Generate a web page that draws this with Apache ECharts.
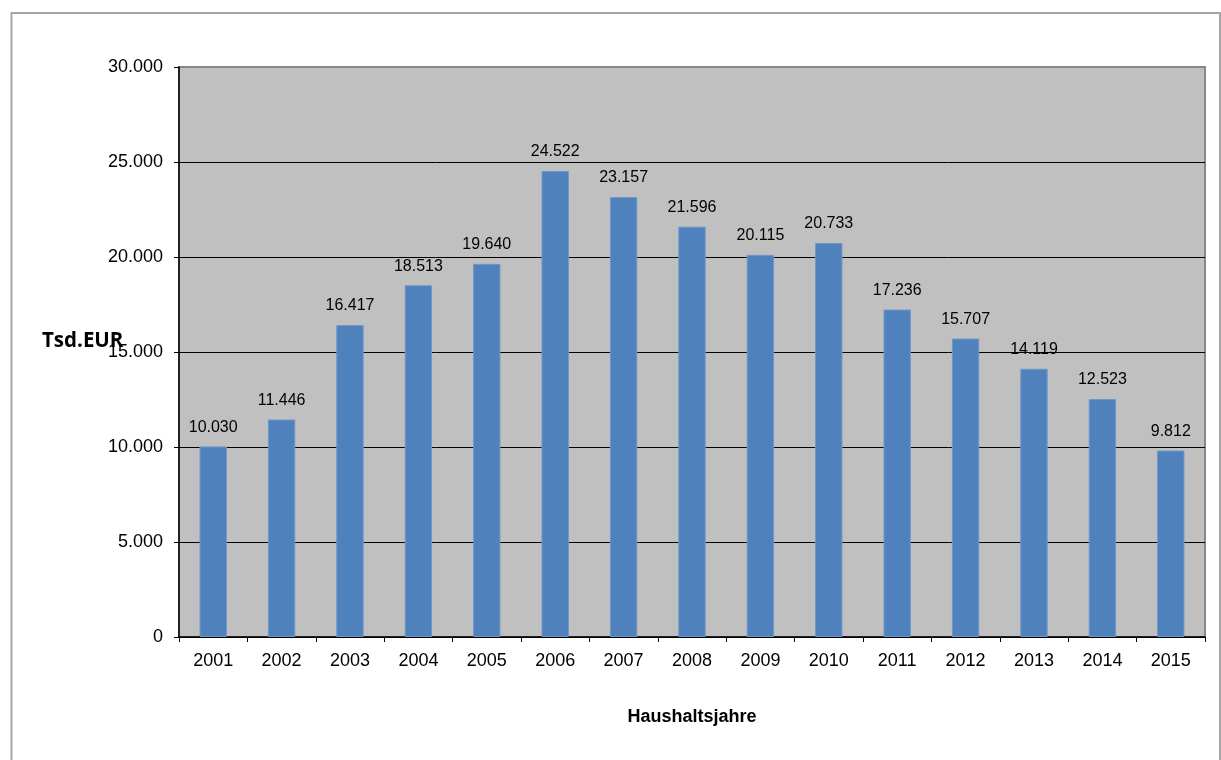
<!DOCTYPE html>
<html>
<head>
<meta charset="utf-8">
<script src="https://cdn.jsdelivr.net/npm/echarts@6/dist/echarts.min.js"></script>
<style>html,body{margin:0;padding:0;background:#fff;}#c{width:1221px;height:760px;}</style>
</head>
<body>
<div id="c"></div>
<script>
const years = ['2001','2002','2003','2004','2005','2006','2007','2008','2009','2010','2011','2012','2013','2014','2015'];
const values = [10030, 11446, 16417, 18513, 19640, 24522, 23157, 21596, 20115, 20733, 17236, 15707, 14119, 12523, 9812];
const yTicks = [0, 5000, 10000, 15000, 20000, 25000, 30000];
const yAxisTitle = 'Tsd.EUR';
const xAxisTitle = 'Haushaltsjahre';

function fmt(v){ return String(v).replace(/\B(?=(\d{3})+(?!\d))/g, '.'); }

const splitColors = yTicks.map((t, i) => i === yTicks.length - 1 ? '#888888' : '#000000');

const chart = echarts.init(document.getElementById('c'), null, {renderer:'canvas'});
chart.setOption({
  animation:false,
  backgroundColor:'#ffffff',
  textStyle:{fontFamily:'Liberation Sans, Arial, sans-serif'},
  graphic:[
    {type:'rect', shape:{x:11.5, y:13, width:1208.5, height:760}, style:{fill:'none', stroke:'#a6a6a6', lineWidth:2}, z:-10},
    {type:'text', left:42, top:331, style:{text:yAxisTitle, font:'bold 20.5px "Open Sans", sans-serif', fill:'#000'}}
  ],
  grid:{left:179, top:67, right:16, bottom:123, show:true, backgroundColor:'#C0C0C0', borderColor:'#888888', borderWidth:2},
  xAxis:{
    type:'category', data:years, boundaryGap:true,
    axisLine:{lineStyle:{color:'#000', width:1.5}},
    axisTick:{show:true, alignWithLabel:false, length:5, lineStyle:{color:'#000'}},
    axisLabel:{color:'#000', fontSize:18, margin:15},
    name:xAxisTitle, nameLocation:'middle', nameGap:71,
    nameTextStyle:{color:'#000', fontSize:18, fontWeight:'bold'}
  },
  yAxis:{
    type:'value', min:yTicks[0], max:yTicks[yTicks.length-1], interval:yTicks[1]-yTicks[0],
    axisLine:{show:true, lineStyle:{color:'#000', width:1.5}},
    axisTick:{show:true, length:5, lineStyle:{color:'#000'}},
    axisLabel:{color:'#000', fontSize:18, margin:16, padding:[2,0,0,0], formatter:fmt},
    splitLine:{show:true, lineStyle:{color:splitColors, width:1}}
  },
  series:[{
    type:'bar', data:values, barWidth:'40%',
    itemStyle:{color:'#4F81BD', borderColor:'#6E97CB', borderWidth:1},
    label:{show:true, position:'top', distance:11, color:'#000', fontSize:16, formatter:(p)=>fmt(p.value)}
  }]
});
</script>
</body>
</html>
